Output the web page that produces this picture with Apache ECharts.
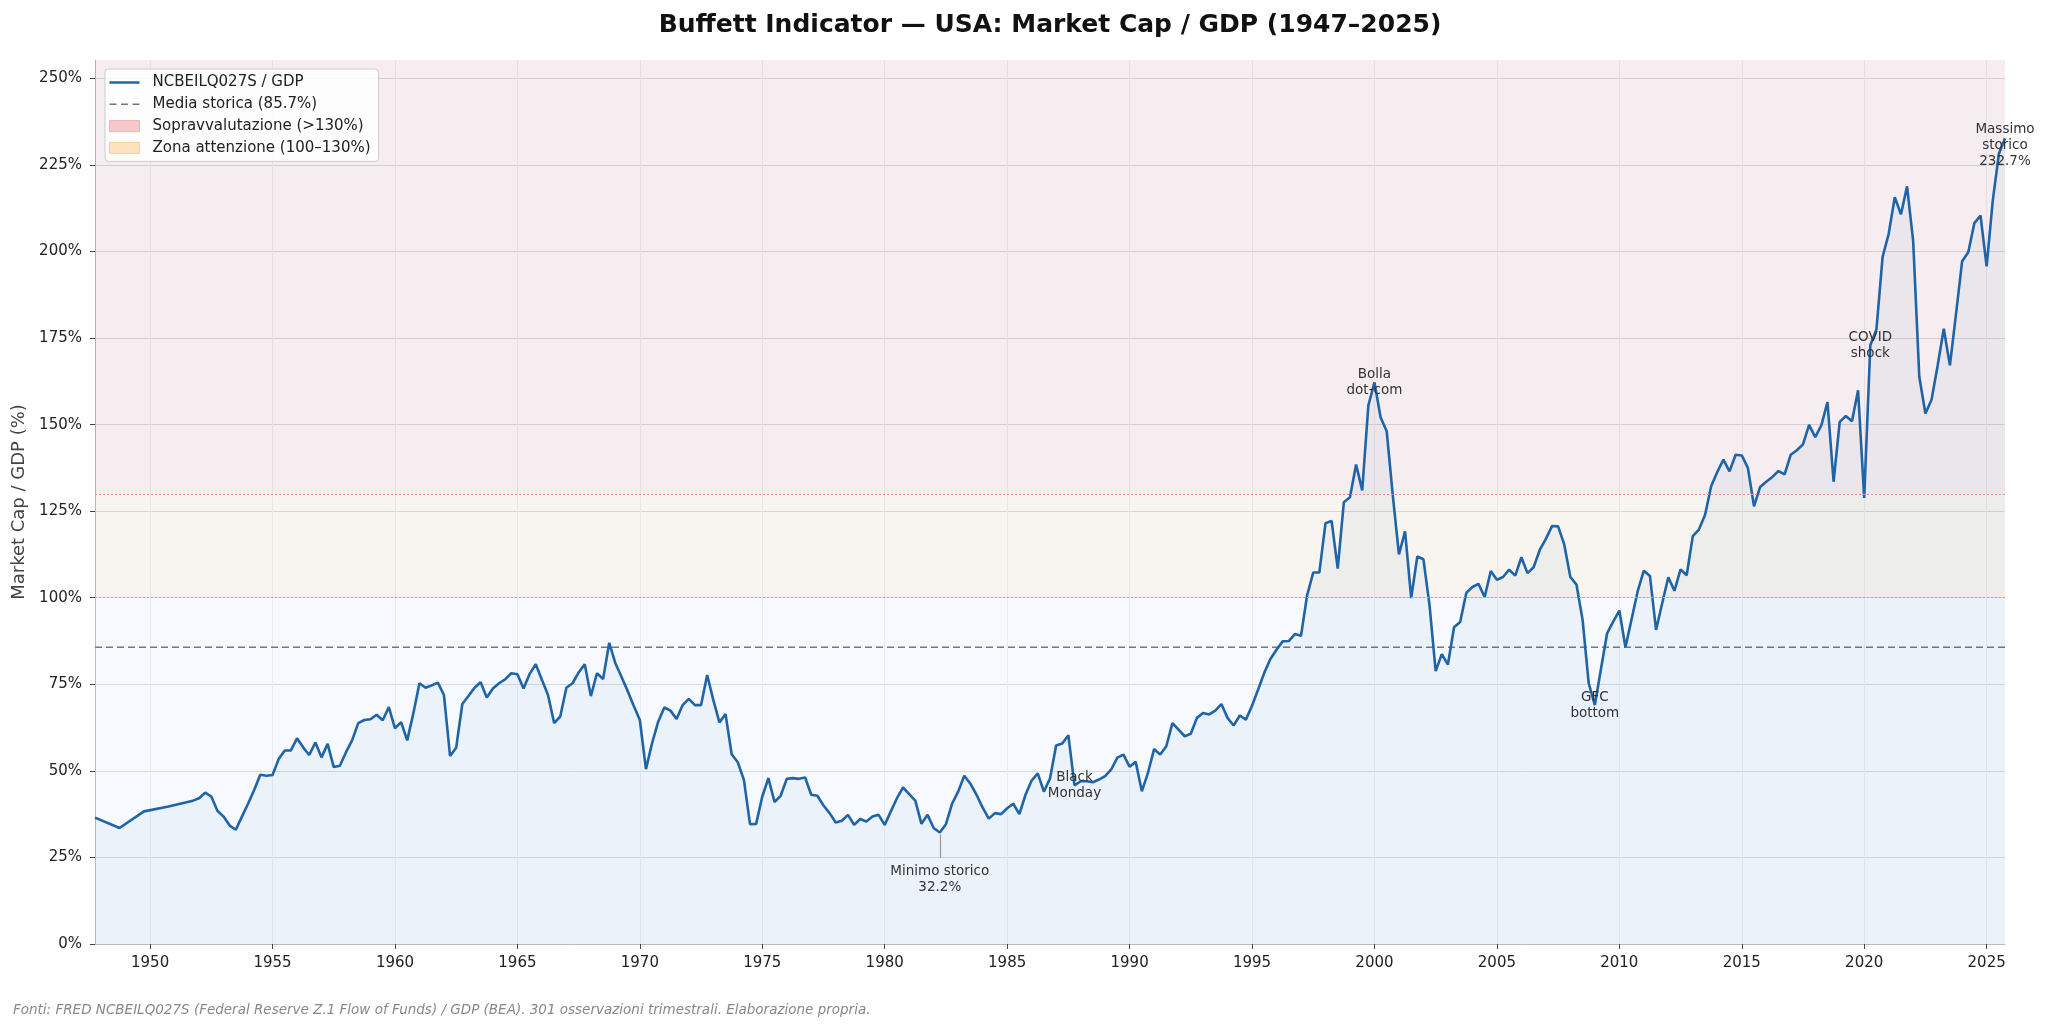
<!DOCTYPE html>
<html>
<head>
<meta charset="utf-8">
<script src="https://cdn.jsdelivr.net/npm/echarts@6/dist/echarts.min.js"></script>
<style>
html,body{margin:0;padding:0;background:#ffffff;}
#chart{width:2048px;height:1030px;}
</style>
</head>
<body>
<div id="chart"></div>
<script>
// ---------------- DATA ----------------
const titleText = 'Buffett Indicator — USA: Market Cap / GDP (1947–2025)';
const footerText = 'Fonti: FRED NCBEILQ027S (Federal Reserve Z.1 Flow of Funds) / GDP (BEA). 301 osservazioni trimestrali. Elaborazione propria.';
const yAxisTitle = 'Market Cap / GDP (%)';

// Annual observations before quarterly coverage (dates as fractional years)
const annualDates = [1947.75, 1948.75, 1949.75, 1950.75, 1951.75];
const annualValues = [36.5, 33.5, 38.3, 39.7, 41.4];

// Quarterly observations from 1952 Q1 to 2025 Q4 (one row per year, Q1..Q4)
const quarterlyStartYear = 1952;
const quarterlyValues = [
  42.1, 43.7, 42.6, 38.5,   // 1952
  36.8, 34.2, 33.0, 36.8,   // 1953
  40.5, 44.5, 48.9, 48.6,   // 1954
  48.8, 53.4, 55.9, 55.9,   // 1955
  59.4, 56.8, 54.6, 58.2,   // 1956
  53.9, 57.8, 51.1, 51.5,   // 1957
  55.4, 58.8, 63.8, 64.7,   // 1958
  64.9, 66.2, 64.6, 68.4,   // 1959
  62.3, 64.1, 58.8, 66.6,   // 1960
  75.3, 74.0, 74.7, 75.5,   // 1961
  71.9, 54.3, 56.7, 69.3,   // 1962
  71.6, 74.0, 75.6, 71.2,   // 1963
  73.8, 75.3, 76.4, 78.2,   // 1964
  77.9, 73.8, 78.0, 80.8,   // 1965
  76.3, 71.9, 63.8, 65.7,   // 1966
  74.0, 75.3, 78.4, 80.8,   // 1967
  71.6, 78.2, 76.5, 87.0,   // 1968
  81.1, 77.2, 73.1, 68.8,   // 1969
  64.7, 50.5, 58.0, 64.2,   // 1970
  68.3, 67.4, 65.0, 69.0,   // 1971
  70.8, 69.0, 69.0, 77.7,   // 1972
  70.5, 64.0, 66.4, 54.8,   // 1973
  52.5, 47.4, 34.6, 34.7,   // 1974
  42.6, 47.9, 41.0, 42.8,   // 1975
  47.7, 47.9, 47.7, 48.1,   // 1976
  43.1, 42.8, 40.0, 37.8,   // 1977
  35.1, 35.6, 37.3, 34.4,   // 1978
  36.1, 35.4, 36.8, 37.3,   // 1979
  34.4, 38.3, 42.1, 45.2,   // 1980
  43.3, 41.4, 34.7, 37.3,   // 1981
  33.5, 32.2, 34.6, 40.5,   // 1982
  44.0, 48.6, 46.3, 43.1,   // 1983
  39.4, 36.2, 37.8, 37.5,   // 1984
  39.2, 40.5, 37.5, 43.1,   // 1985
  47.2, 49.3, 44.0, 47.8,   // 1986
  57.3, 57.9, 60.3, 45.8,   // 1987
  47.0, 47.0, 46.7, 47.5,   // 1988
  48.5, 50.4, 53.8, 54.7,   // 1989
  51.2, 52.6, 44.1, 49.4,   // 1990
  56.3, 54.7, 57.1, 63.8,   // 1991
  61.9, 60.0, 60.7, 65.3,   // 1992
  66.7, 66.3, 67.4, 69.3,   // 1993
  65.3, 63.1, 66.0, 64.8,   // 1994
  68.8, 73.5, 78.3, 82.3,   // 1995
  85.0, 87.4, 87.5, 89.5,   // 1996
  89.0, 100.7, 107.3, 107.3, // 1997
  121.5, 122.2, 108.4, 127.6, // 1998
  129.0, 138.5, 131.0, 155.5, // 1999
  162.2, 152.1, 148.1, 129.5, // 2000
  112.5, 119.2, 99.9, 111.9, // 2001
  111.1, 97.8, 78.8, 83.7,  // 2002
  80.7, 91.5, 93.0, 101.4,  // 2003
  103.1, 104.0, 100.2, 107.7, // 2004
  105.2, 106.0, 108.1, 106.4, // 2005
  111.7, 107.1, 108.8, 113.8, // 2006
  117.0, 120.7, 120.6, 115.4, // 2007
  106.0, 103.8, 93.6, 75.3, // 2008
  69.0, 79.4, 89.7, 93.1,   // 2009
  96.3, 85.7, 93.8, 101.9,  // 2010
  107.8, 106.3, 90.7, 98.4, // 2011
  105.9, 102.0, 108.2, 106.5, // 2012
  117.8, 119.7, 123.9, 132.2, // 2013
  136.3, 139.9, 136.5, 141.3, // 2014
  141.1, 137.5, 126.4, 132.0, // 2015
  133.5, 134.9, 136.6, 135.6, // 2016
  141.3, 142.6, 144.3, 149.9, // 2017
  146.4, 149.8, 156.5, 133.5, // 2018
  150.8, 152.5, 151.0, 159.9, // 2019
  128.8, 172.9, 177.5, 198.4, // 2020
  205.1, 215.7, 210.7, 218.8, // 2021
  203.0, 163.8, 153.2, 157.2, // 2022
  167.1, 177.7, 167.1, 182.0, // 2023
  197.2, 199.8, 208.2, 210.4, // 2024
  195.7, 214.7, 228.2, 232.7  // 2025
];

const historicalMean = 85.7;
const overvaluedLevel = 130;
const attentionLevel = 100;

const xTickYears = [1950, 1955, 1960, 1965, 1970, 1975, 1980, 1985, 1990, 1995, 2000, 2005, 2010, 2015, 2020, 2025];
const yTickValues = [0, 25, 50, 75, 100, 125, 150, 175, 200, 225, 250];
const yAxisMax = 255.3;

const seriesNames = {
  main: 'NCBEILQ027S / GDP',
  mean: 'Media storica (85.7%)',
  over: 'Sopravvalutazione (>130%)',
  attention: 'Zona attenzione (100–130%)'
};

// Event annotations (anchored to the observation at that date)
const eventLabels = [
  { date: 1987.75, text: 'Black\nMonday' },
  { date: 2000.0,  text: 'Bolla\ndot-com' },
  { date: 2009.0,  text: 'GFC\nbottom' },
  { date: 2020.25, text: 'COVID\nshock' }
];

// ---------------- BUILD ----------------
const FONT = 'DejaVu Sans';
const seriesData = annualDates.map((d, i) => [d, annualValues[i]])
  .concat(quarterlyValues.map((v, i) => [quarterlyStartYear + i / 4, v]));

const xMin = seriesData[0][0];
const xMax = seriesData[seriesData.length - 1][0];

function valueAt(date) {
  const p = seriesData.find(d => Math.abs(d[0] - date) < 1e-6);
  return p ? p[1] : null;
}
let minPt = seriesData[0], maxPt = seriesData[0];
seriesData.forEach(p => { if (p[1] < minPt[1]) minPt = p; if (p[1] > maxPt[1]) maxPt = p; });

const annoLabel = {
  show: true, position: 'inside', color: '#333', fontSize: 13.5, lineHeight: 16,
  fontFamily: FONT, align: 'center', verticalAlign: 'middle'
};

const markPoints = eventLabels.map(e => ({
  coord: [e.date, valueAt(e.date)],
  label: Object.assign({}, annoLabel, { formatter: e.text })
}));
markPoints.push({
  coord: [minPt[0], minPt[1]],
  label: Object.assign({}, annoLabel, { formatter: 'Minimo storico\n' + minPt[1].toFixed(1) + '%', offset: [0, 47] })
});
markPoints.push({
  coord: [maxPt[0], maxPt[1]],
  label: Object.assign({}, annoLabel, { formatter: 'Massimo\nstorico\n' + maxPt[1].toFixed(1) + '%', offset: [0, 7] })
});

const chart = echarts.init(document.getElementById('chart'), null, { renderer: 'canvas' });

const option = {
  animation: false,
  backgroundColor: '#ffffff',
  textStyle: { fontFamily: FONT },
  grid: { left: 95, right: 43, top: 60, bottom: 86, containLabel: false },
  graphic: [
    {
      type: 'text', x: 1050, y: 25, silent: true,
      style: {
        text: titleText, font: 'bold 25px "DejaVu Sans"', fill: '#111111',
        align: 'center', verticalAlign: 'middle', textAlign: 'center', textVerticalAlign: 'middle'
      }
    },
    {
      type: 'text', x: 13, y: 1010, silent: true,
      style: {
        text: footerText, font: 'italic 13.5px "DejaVu Sans"', fill: '#888888',
        align: 'left', verticalAlign: 'middle', textAlign: 'left', textVerticalAlign: 'middle'
      }
    }
  ],
  legend: {
    orient: 'vertical', left: 105, top: 69,
    padding: [5, 8, 5, 4], itemGap: 4.8, itemWidth: 30, itemHeight: 11,
    backgroundColor: 'rgba(255,255,255,0.85)', borderColor: '#cccccc', borderWidth: 1, borderRadius: 3,
    symbolKeepAspect: true, selectedMode: false,
    textStyle: { fontFamily: FONT, fontSize: 15, color: '#222', lineHeight: 17, padding: [0, 0, 0, 8] },
    data: [
      { name: seriesNames.main, icon: 'path://M0,0H30V2.5H0Z', itemStyle: { color: '#1f64a6', borderWidth: 0 } },
      { name: seriesNames.mean, icon: 'path://M0,0H7V1.6H0Z M11.5,0H18.5V1.6H11.5Z M23,0H30V1.6H23Z', itemStyle: { color: '#777777', borderWidth: 0 } },
      { name: seriesNames.over, icon: 'rect', itemStyle: { color: '#f5c9cc', borderColor: '#eeb3b7', borderWidth: 1 } },
      { name: seriesNames.attention, icon: 'rect', itemStyle: { color: '#fde2bd', borderColor: '#f7d09c', borderWidth: 1 } }
    ]
  },
  xAxis: {
    type: 'value', min: xMin, max: xMax,
    axisLine: { show: true, lineStyle: { color: '#bbbbbb', width: 1 } },
    axisTick: { show: true, customValues: xTickYears, length: 5, lineStyle: { color: '#444' } },
    axisLabel: { customValues: xTickYears, fontSize: 15, color: '#222', margin: 12, formatter: v => String(v) },
    splitLine: { show: true, lineStyle: { color: '#f0f0f0', width: 1 } }
  },
  yAxis: {
    type: 'value', min: 0, max: yAxisMax,
    name: yAxisTitle, nameLocation: 'middle', nameGap: 65,
    nameTextStyle: { fontSize: 18, color: '#444', fontFamily: FONT },
    axisLine: { show: true, lineStyle: { color: '#bbbbbb', width: 1 } },
    axisTick: { show: true, customValues: yTickValues, length: 5, lineStyle: { color: '#444' } },
    axisLabel: { customValues: yTickValues, fontSize: 15, color: '#222', margin: 13, formatter: v => v + '%' },
    splitLine: { show: true, lineStyle: { color: '#dddddd', width: 1 } }
  },
  series: [
    {
      name: 'Zona normale', type: 'line', data: [], silent: true,
      markArea: { silent: true, itemStyle: { color: 'rgba(165,195,235,0.10)' }, data: [[{ yAxis: 0 }, { yAxis: attentionLevel }]] }
    },
    {
      name: seriesNames.attention, type: 'line', data: [], silent: true,
      markArea: { silent: true, itemStyle: { color: 'rgba(185,145,95,0.10)' }, data: [[{ yAxis: attentionLevel }, { yAxis: overvaluedLevel }]] },
      markLine: { silent: true, symbol: 'none', label: { show: false },
        lineStyle: { type: [2, 2], color: '#dba56a', width: 1 }, data: [{ yAxis: attentionLevel }] }
    },
    {
      name: seriesNames.over, type: 'line', data: [], silent: true,
      markArea: { silent: true, itemStyle: { color: 'rgba(165,75,105,0.10)' }, data: [[{ yAxis: overvaluedLevel }, { yAxis: yAxisMax }]] },
      markLine: { silent: true, symbol: 'none', label: { show: false },
        lineStyle: { type: [2, 2], color: '#e28c8c', width: 1 }, data: [{ yAxis: overvaluedLevel }] }
    },
    {
      name: seriesNames.mean, type: 'line', z: 2, silent: true,
      data: [[xMin, historicalMean], [xMax, historicalMean]],
      symbol: 'none', showSymbol: false,
      lineStyle: { color: '#777777', width: 1.6, type: [7, 4] }
    },
    {
      name: seriesNames.main, type: 'line', z: 3,
      data: seriesData, symbol: 'none', showSymbol: false,
      lineStyle: { color: '#1f64a6', width: 2.6 },
      areaStyle: { color: 'rgba(31,119,180,0.07)', origin: 'start' },
      markPoint: {
        silent: true, symbol: 'circle', symbolSize: 1,
        itemStyle: { color: 'rgba(0,0,0,0)' },
        data: markPoints
      },
      markLine: {
        silent: true, symbol: 'none', label: { show: false },
        lineStyle: { color: '#999999', width: 1.2, type: 'solid' },
        data: [[{ coord: [minPt[0], minPt[1] - 0.6] }, { coord: [minPt[0], minPt[1] - 7.3] }]]
      }
    }
  ]
};
chart.setOption(option);
</script>
</body>
</html>
